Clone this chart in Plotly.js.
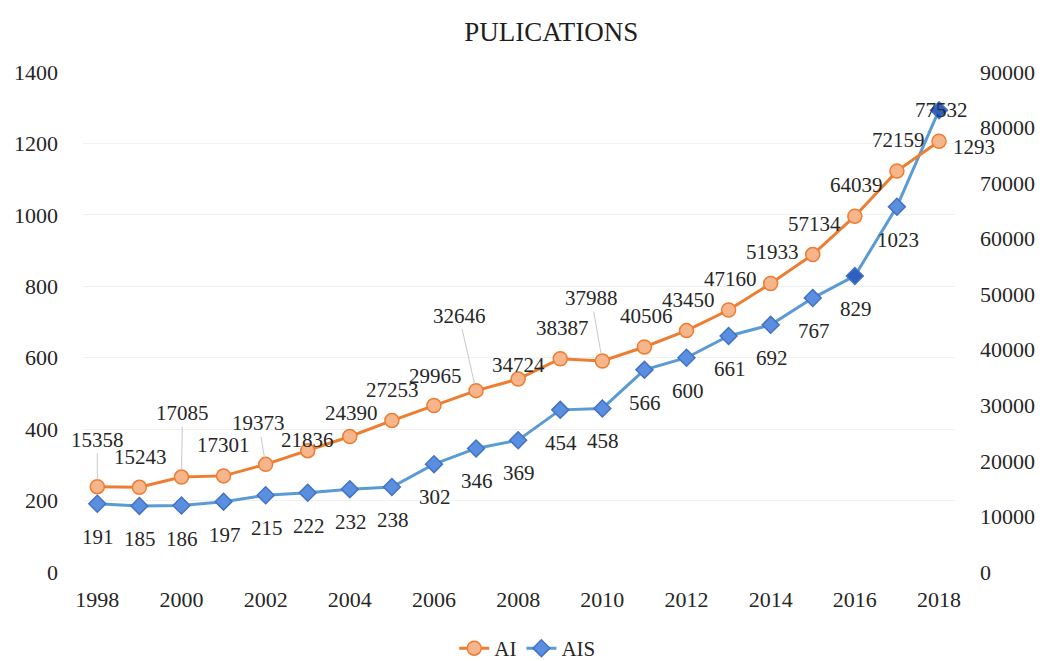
<!DOCTYPE html>
<html>
<head>
<meta charset="utf-8">
<script src="https://cdn.plot.ly/plotly-3.0.1.min.js"></script>
<style>
  html, body { margin: 0; padding: 0; background: #ffffff; }
  #chart { width: 1046px; height: 661px; }
</style>
</head>
<body>
<div id="chart"></div>
<script>
// Yearly publication counts
const years = [1998, 1999, 2000, 2001, 2002, 2003, 2004, 2005, 2006, 2007, 2008,
               2009, 2010, 2011, 2012, 2013, 2014, 2015, 2016, 2017, 2018];
const aiPubs = [15358, 15243, 17085, 17301, 19373, 21836, 24390, 27253, 29965, 32646, 34724,
                38387, 37988, 40506, 43450, 47160, 51933, 57134, 64039, 72159, 77532];
const aisPubs = [191, 185, 186, 197, 215, 222, 232, 238, 302, 346, 369,
                 454, 458, 566, 600, 661, 692, 767, 829, 1023, 1293];

const xTickVals = [1998, 2000, 2002, 2004, 2006, 2008, 2010, 2012, 2014, 2016, 2018];
const leftTickVals = [0, 200, 400, 600, 800, 1000, 1200, 1400];
const rightTickVals = [0, 10000, 20000, 30000, 40000, 50000, 60000, 70000, 80000, 90000];

const seriesNames = ['AI', 'AIS'];
const chartTitle = 'PULICATIONS';

// Styling
const SERIF = 'Liberation Serif, Times New Roman, Times, serif';
const TEXT = '#262626';
const ORANGE = '#ed7d31';
const ORANGE_FILL = '#f6b58a';
const BLUE = '#5b9bd5';
const BLUE_FILL = '#5a8fe0';
const BLUE_EDGE = '#4472c4';
const BLUE_DARK = '#2f5fbf';

// Pixel nudges for value labels: [dx, dy, leader line]
const aiLabelDefault = [2, -31, false];
const aiLabelNudge = {
  1998: [0, -47, true], 1999: [1, -30, false], 2000: [1, -64, true],
  2001: [0, -31, false], 2002: [-7, -41, true], 2003: [0, -11, false],
  2004: [2, -24, false], 2005: [1, -31, false], 2006: [2, -30, false],
  2007: [-17, -75, true], 2008: [0, -14, false], 2010: [-11, -63, true]
};
const aisLabelDefault = [1, 33, false];
const aisLabelNudge = { 2018: [35, 37, false] };
const aisDarkYears = [2016, 2018];

function valueLabel(x, y, yref, nudge) {
  return {
    x: x, y: y, xref: 'x', yref: yref,
    text: String(y),
    showarrow: true, arrowhead: 0, arrowwidth: 1,
    arrowcolor: nudge[2] ? '#c9c9c9' : 'rgba(0,0,0,0)',
    standoff: 7,
    ax: nudge[0], ay: nudge[1],
    font: { family: SERIF, size: 21, color: TEXT }
  };
}

const annotations = [];
years.forEach((yr, i) => {
  annotations.push(valueLabel(yr, aiPubs[i], 'y2', aiLabelNudge[yr] || aiLabelDefault));
});
years.forEach((yr, i) => {
  annotations.push(valueLabel(yr, aisPubs[i], 'y', aisLabelNudge[yr] || aisLabelDefault));
});

const traces = [
  {
    x: years, y: aiPubs, name: seriesNames[0], yaxis: 'y2',
    type: 'scatter', mode: 'lines+markers',
    line: { color: ORANGE, width: 3 },
    marker: { symbol: 'circle', size: 14, color: ORANGE_FILL, line: { color: ORANGE, width: 1.5 } },
    hoverinfo: 'x+y'
  },
  {
    x: years, y: aisPubs, name: seriesNames[1], yaxis: 'y',
    type: 'scatter', mode: 'lines+markers',
    line: { color: BLUE, width: 3 },
    marker: {
      symbol: 'diamond', size: 13,
      color: years.map(yr => aisDarkYears.includes(yr) ? BLUE_DARK : BLUE_FILL),
      line: { color: BLUE_EDGE, width: 1.5 }
    },
    hoverinfo: 'x+y'
  }
];

const layout = {
  width: 1046, height: 661,
  paper_bgcolor: '#ffffff', plot_bgcolor: '#ffffff',
  margin: { l: 83, r: 91, t: 72, b: 89, pad: 0, autoexpand: false },
  font: { family: SERIF, size: 21, color: TEXT },
  title: {
    text: chartTitle,
    font: { family: SERIF, size: 27, color: '#1f1f1f' },
    x: 0.527, xref: 'container', xanchor: 'center',
    y: 0.953, yref: 'container', yanchor: 'middle'
  },
  showlegend: true,
  legend: {
    orientation: 'h', x: 0.51, xanchor: 'center', xref: 'paper',
    y: -0.112, yanchor: 'top',
    font: { family: SERIF, size: 21, color: TEXT },
    traceorder: 'normal'
  },
  xaxis: {
    range: [1997.66, 2018.38], automargin: false,
    tickmode: 'array', tickvals: xTickVals, ticktext: xTickVals.map(String),
    tickangle: 0,
    showgrid: false, zeroline: false, showline: false, ticks: '',
    ticklabelstandoff: 12,
    tickfont: { family: SERIF, size: 22, color: TEXT }
  },
  yaxis: {
    range: [0, 1400], automargin: false,
    tickmode: 'array', tickvals: leftTickVals, ticktext: leftTickVals.map(String),
    showgrid: true, gridcolor: '#f1f1f1', gridwidth: 1,
    zeroline: false, showline: false, ticks: '',
    ticklabelstandoff: 24,
    tickfont: { family: SERIF, size: 22, color: TEXT }
  },
  yaxis2: {
    range: [0, 90000], overlaying: 'y', side: 'right', automargin: false,
    tickmode: 'array', tickvals: rightTickVals, ticktext: rightTickVals.map(String),
    showgrid: false, zeroline: false, showline: false, ticks: '',
    ticklabelstandoff: 24,
    tickfont: { family: SERIF, size: 22, color: TEXT }
  },
  annotations: annotations
};

Plotly.newPlot('chart', traces, layout, { displayModeBar: false, staticPlot: true });
</script>
</body>
</html>
